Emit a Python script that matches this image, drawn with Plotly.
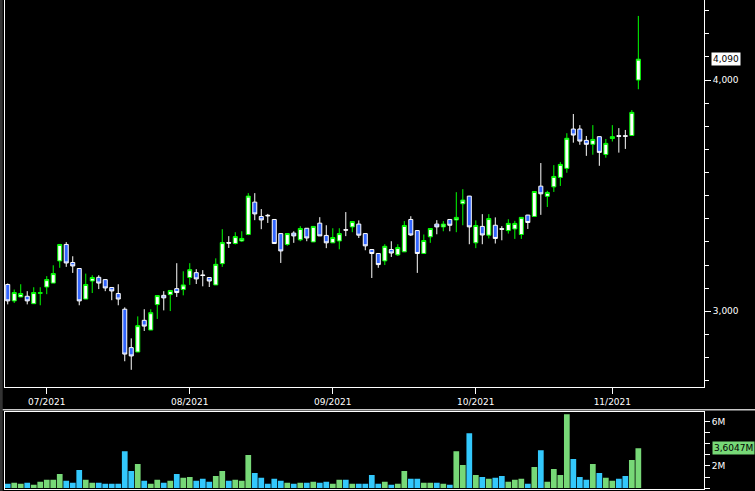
import plotly.graph_objects as go
import pandas as pd

# ---------------- data ----------------
dates = [d.strftime("%Y-%m-%d") for d in pd.bdate_range("2021-06-23", "2021-11-05")]

open_ = [3116, 3045, 3062, 3065, 3033, 3078, 3105, 3122, 3218, 3289,
         3211, 3185, 3053, 3131, 3147, 3137, 3103, 3077, 3009, 2843,
         2824, 2961, 2919, 3029, 3069, 3072, 3098, 3094, 3146, 3167,
         3157, 3146, 3114, 3206, 3297, 3293, 3304, 3332, 3472, 3410,
         3415, 3397, 3336, 3289, 3338, 3309, 3359, 3300, 3381, 3328,
         3296, 3304, 3353, 3365, 3377, 3336, 3267, 3250, 3218, 3267,
         3244, 3257, 3397, 3349, 3250, 3322, 3377, 3365, 3397, 3395,
         3465, 3498, 3296, 3367, 3329, 3372, 3357, 3349, 3356, 3332,
         3416, 3410, 3541, 3497, 3538, 3579, 3618, 3788, 3788, 3739,
         3722, 3755, 3678, 3747, 3759, 3759, 3760, 4000]
high = [3120, 3094, 3117, 3087, 3104, 3104, 3152, 3199, 3290, 3299,
        3238, 3186, 3163, 3156, 3156, 3138, 3104, 3117, 3017, 2883,
        2978, 3009, 3009, 3069, 3087, 3092, 3208, 3173, 3208, 3182,
        3178, 3147, 3229, 3355, 3325, 3342, 3346, 3511, 3511, 3442,
        3421, 3398, 3337, 3337, 3346, 3368, 3360, 3368, 3407, 3372,
        3359, 3359, 3429, 3389, 3393, 3337, 3268, 3251, 3290, 3303,
        3290, 3390, 3411, 3350, 3332, 3359, 3394, 3390, 3398, 3515,
        3528, 3499, 3393, 3420, 3420, 3406, 3368, 3398, 3391, 3407,
        3417, 3519, 3641, 3521, 3632, 3645, 3770, 3853, 3805, 3758,
        3805, 3756, 3745, 3805, 3792, 3784, 3870, 4277]
low = [3030, 3036, 3062, 3030, 3033, 3026, 3074, 3122, 3188, 3192,
       3166, 3026, 3053, 3079, 3096, 3087, 3048, 3026, 2784, 2747,
       2824, 2915, 2919, 2967, 3004, 3001, 3062, 3069, 3114, 3118,
       3108, 3105, 3114, 3192, 3274, 3289, 3300, 3329, 3394, 3355,
       3382, 3293, 3209, 3283, 3296, 3303, 3303, 3300, 3326, 3273,
       3296, 3268, 3325, 3342, 3317, 3264, 3144, 3188, 3200, 3235,
       3239, 3257, 3326, 3166, 3250, 3296, 3333, 3346, 3346, 3342,
       3372, 3290, 3273, 3290, 3315, 3293, 3307, 3336, 3313, 3313,
       3356, 3409, 3417, 3451, 3516, 3542, 3599, 3729, 3720, 3672,
       3677, 3629, 3664, 3734, 3686, 3702, 3759, 3960]
close = [3045, 3081, 3077, 3045, 3081, 3080, 3137, 3163, 3289, 3209,
         3196, 3045, 3116, 3146, 3122, 3101, 3088, 3053, 2815, 2807,
         2938, 2936, 2994, 3068, 3058, 3090, 3081, 3114, 3180, 3140,
         3155, 3131, 3203, 3297, 3295, 3323, 3315, 3498, 3421, 3395,
         3413, 3293, 3261, 3336, 3326, 3358, 3317, 3367, 3326, 3296,
         3319, 3336, 3351, 3388, 3329, 3283, 3250, 3202, 3281, 3252,
         3276, 3371, 3330, 3250, 3306, 3358, 3365, 3377, 3372, 3406,
         3481, 3365, 3371, 3330, 3401, 3315, 3355, 3380, 3380, 3406,
         3384, 3518, 3508, 3514, 3583, 3635, 3748, 3762, 3736, 3722,
         3743, 3687, 3726, 3755, 3757, 3757, 3860, 4090]
volume_m = [0.39, 0.48, 0.39, 0.48, 0.30, 0.57, 0.75, 0.75, 1.28, 0.66,
            0.48, 1.64, 0.75, 0.48, 0.48, 0.39, 0.39, 0.39, 3.34, 1.55,
            2.18, 0.66, 0.39, 0.75, 0.48, 0.66, 1.28, 0.93, 1.01, 0.66,
            0.84, 0.57, 1.10, 1.55, 0.66, 0.75, 0.66, 2.99, 1.37, 0.93,
            0.39, 0.84, 0.66, 0.48, 0.39, 0.48, 0.48, 0.57, 0.48, 0.57,
            0.39, 0.75, 0.75, 0.39, 0.39, 0.39, 1.19, 0.39, 0.57, 0.30,
            0.39, 1.55, 0.84, 0.84, 0.48, 0.48, 0.48, 0.39, 0.30, 3.34,
            2.09, 4.96, 1.19, 1.01, 0.84, 0.93, 1.10, 0.57, 0.75, 0.84,
            0.39, 1.91, 3.43, 0.57, 1.73, 1.19, 6.66, 2.63, 1.01, 0.75,
            2.18, 1.37, 0.93, 0.66, 0.84, 1.10, 2.54, 3.6047]

month_ticks = ["2021-07-01", "2021-08-02", "2021-09-01", "2021-10-01", "2021-11-01"]
month_labels = ["07/2021", "08/2021", "09/2021", "10/2021", "11/2021"]
vol_tickvals = [0, 1, 2, 3, 4, 5, 6]
vol_ticktext = ["", "", "2M", "", "", "", "6M"]   # 4M is covered by the last-volume tag
last_close_text = "4,090"
last_volume_text = "3,6047M"

# ---------------- style ----------------
W, H = 755, 491
ML, MR, MT, MB = 5, 51, 0, 2
PW, PH = W - ML - MR, H - MT - MB
FONT = "DejaVu Sans"
UP_LINE = "#00ff00"
DOWN_FILL = "#3366ff"
VOL_UP = "#77d877"
VOL_DOWN = "#33c8fc"


def py(px):
    return (MT + PH - px) / PH


def pxx(px):
    return (px - ML) / PW


vol_colors = [VOL_UP if c > o else VOL_DOWN for o, c in zip(open_, close)]

fig = go.Figure()
fig.add_trace(go.Candlestick(
    x=dates, open=open_, high=high, low=low, close=close,
    increasing=dict(line=dict(color=UP_LINE, width=1), fillcolor="white"),
    decreasing=dict(line=dict(color="white", width=1), fillcolor=DOWN_FILL),
    whiskerwidth=0, showlegend=False, xaxis="x", yaxis="y",
))
fig.add_trace(go.Bar(
    x=dates, y=volume_m, marker=dict(color=vol_colors, line=dict(width=0)),
    showlegend=False, xaxis="x2", yaxis="y2",
))

axis_common = dict(showgrid=False, zeroline=False, linecolor="white", linewidth=1,
                   tickcolor="white", tickwidth=1, fixedrange=True, automargin=False)

fig.update_layout(
    width=W, height=H,
    margin=dict(l=ML, r=MR, t=MT, b=MB, pad=0, autoexpand=False),
    paper_bgcolor="black", plot_bgcolor="black",
    font=dict(family=FONT, size=9, color="white"),
    bargap=0.12,
    boxgap=0.12,
    showlegend=False,
    xaxis=dict(type="category", domain=[0, 1], anchor="y", range=[-0.42, 107.1],
               showline=True, mirror=False, ticks="outside", ticklen=6,
               tickvals=month_ticks, ticktext=month_labels,
               rangeslider=dict(visible=False), **axis_common),
    yaxis=dict(domain=[py(387.3), 1], side="right", anchor="x",
               range=[2671.4, 4345.9], showline=True, mirror=True,
               ticks="outside", ticklen=6, tick0=0, dtick=1000, tickformat=",d",
               minor=dict(dtick=100, tick0=0, ticks="outside", ticklen=4,
                          tickcolor="white", showgrid=False),
               **axis_common),
    xaxis2=dict(type="category", domain=[0, 1], anchor="y2", matches="x",
                showline=True, mirror=True, ticks="", showticklabels=False,
                **axis_common),
    yaxis2=dict(domain=[0, py(411.7)], side="right", anchor="x2",
                range=[-0.08, 6.9], showline=True, mirror=True,
                ticks="outside", ticklen=5, tickvals=vol_tickvals,
                ticktext=vol_ticktext, **axis_common),
    shapes=[
        dict(type="rect", xref="paper", yref="paper", x0=pxx(0), x1=pxx(2.7),
             y0=py(H + 2), y1=py(-2), fillcolor="#333333", line=dict(width=0)),
        dict(type="line", xref="paper", yref="paper", x0=pxx(2.7), x1=pxx(W + 2),
             y0=py(409.7), y1=py(409.7), line=dict(color="#c8c8c8", width=1.5)),
    ],
    annotations=[
        dict(text=last_close_text, xref="paper", yref="y", x=1, y=close[-1],
             xanchor="left", yanchor="middle", xshift=7, showarrow=False,
             bgcolor="white", borderpad=1, font=dict(color="black", size=9, family=FONT)),
        dict(text=last_volume_text, xref="paper", yref="y2", x=1, y=volume_m[-1],
             xanchor="left", yanchor="middle", xshift=8, showarrow=False,
             bgcolor=VOL_UP, borderpad=1, font=dict(color="black", size=9, family=FONT)),
    ],
)

fig.write_html(
    "out.html",
    config={"displayModeBar": False},
    post_script="document.body.style.margin='0';document.body.style.padding='0';"
                "document.documentElement.style.overflow='hidden';",
)
